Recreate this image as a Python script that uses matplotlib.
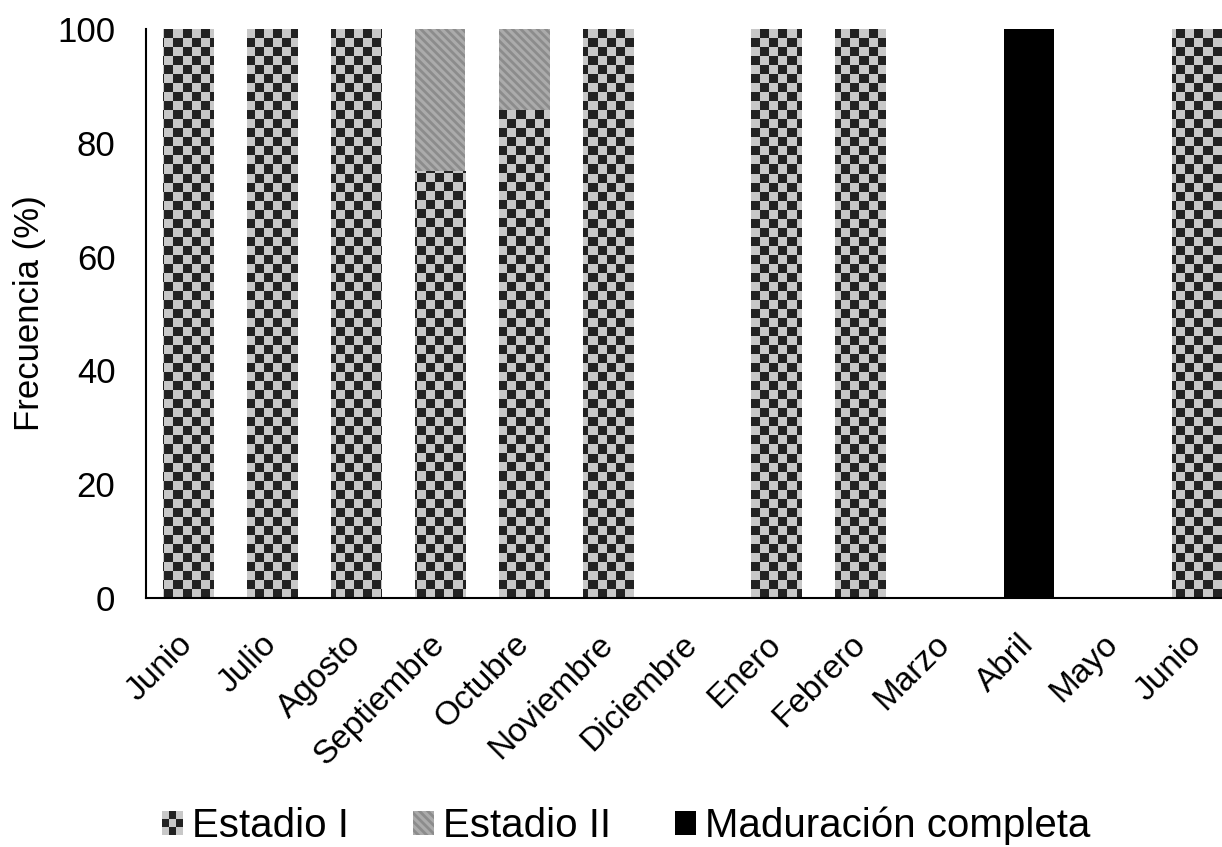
import numpy as np
import matplotlib
matplotlib.use("Agg")
import matplotlib.pyplot as plt
from matplotlib.patches import Patch, Rectangle
from matplotlib.colors import ListedColormap
from matplotlib.legend_handler import HandlerBase

plt.rcParams['font.family'] = ['Liberation Sans', 'DejaVu Sans']
plt.rcParams['hatch.linewidth'] = 2.0

months = ["Junio", "Julio", "Agosto", "Septiembre", "Octubre", "Noviembre",
          "Diciembre", "Enero", "Febrero", "Marzo", "Abril", "Mayo", "Junio"]
estadio_I = [100, 100, 100, 75, 85.7, 100, 0, 100, 100, 0, 0, 0, 100]
estadio_II = [0, 0, 0, 25, 14.3, 0, 0, 0, 0, 0, 0, 0, 0]
maduracion = [0, 0, 0, 0, 0, 0, 0, 0, 0, 0, 100, 0, 0]
yticks = [0, 20, 40, 60, 80, 100]

DARK, LIGHT = '#222222', '#c8c8c8'

W, H = 1222, 847
fig = plt.figure(figsize=(W / 100, H / 100), dpi=100)
ax = fig.add_axes([146 / W, (H - 598) / H, (1239 - 146) / W, 569 / H])

x = np.arange(len(months))
bw = 0.6
e1 = np.array(estadio_I)
e2 = np.array(estadio_II)
m3 = np.array(maduracion)

bars1 = ax.bar(x, e1, bw, color='none', edgecolor='none', zorder=2)
ax.bar(x, e2, bw, bottom=e1, facecolor='#ababab', edgecolor='#8c8c8c',
       linewidth=0, hatch='\\\\\\\\', zorder=2)
ax.bar(x, m3, bw, bottom=e1 + e2, color='black', zorder=2)

ax.set_xlim(-0.5, len(months) - 0.5)
ax.set_ylim(0, 100)

# checkerboard texture clipped to Estadio I bars
ax_w_px = 1239 - 146
ax_h_px = 569
sq = 9.0
nx = int(round(ax_w_px / sq))
ny = int(round(ax_h_px / sq))
checker = (np.indices((ny, nx)).sum(axis=0) % 2).astype(float)
cmap = ListedColormap([DARK, LIGHT])
for b in bars1:
    if b.get_height() <= 0:
        continue
    im = ax.imshow(checker, cmap=cmap, interpolation='nearest',
                   extent=(-0.5, len(months) - 0.5, 0, 100),
                   aspect='auto', origin='lower', zorder=1.5)
    im.set_clip_path(b)
ax.set_xlim(-0.5, len(months) - 0.5)
ax.set_ylim(0, 100)
ax.set_aspect('auto')

ax.spines['top'].set_visible(False)
ax.spines['right'].set_visible(False)
ax.spines['left'].set_linewidth(1.5)
ax.spines['bottom'].set_linewidth(1.5)
ax.set_yticks(yticks)
ax.set_yticklabels([str(v) for v in yticks], fontsize=25)
ax.tick_params(axis='y', length=0, pad=22)
ax.tick_params(axis='x', length=0, pad=30)
ax.set_xticks(x)
ax.set_xticklabels(months, rotation=45, ha='right', va='center',
                   rotation_mode='anchor', fontsize=24)
ax.set_ylabel("Frecuencia (%)", fontsize=25, labelpad=8)


class CheckerHandler(HandlerBase):
    def create_artists(self, legend, orig_handle, xdescent, ydescent,
                       width, height, fontsize, trans):
        arts = [Rectangle((-xdescent, -ydescent), width, height,
                          facecolor=LIGHT, edgecolor='none', transform=trans)]
        n = 3
        cw, ch = width / n, height / n
        for i in range(n):
            for j in range(n):
                if (i + j) % 2 == 1:
                    arts.append(Rectangle((-xdescent + i * cw, -ydescent + j * ch),
                                          cw, ch, facecolor=DARK,
                                          edgecolor='none', transform=trans))
        return arts


h1 = Patch(facecolor=LIGHT, label='Estadio I')
h2 = Patch(facecolor='#ababab', edgecolor='#8c8c8c', linewidth=0,
           hatch='\\\\\\\\', label='Estadio II')
h3 = Patch(facecolor='black', label='Maduración completa')
fig.legend(handles=[h1, h2, h3], handler_map={h1: CheckerHandler()},
           loc='center', bbox_to_anchor=(626 / W, 1 - 826 / H),
           ncol=3, frameon=False, fontsize=29, handlelength=0.52,
           handleheight=0.52, handletextpad=0.22, columnspacing=1.6)

fig.savefig("out.png", dpi=100)
